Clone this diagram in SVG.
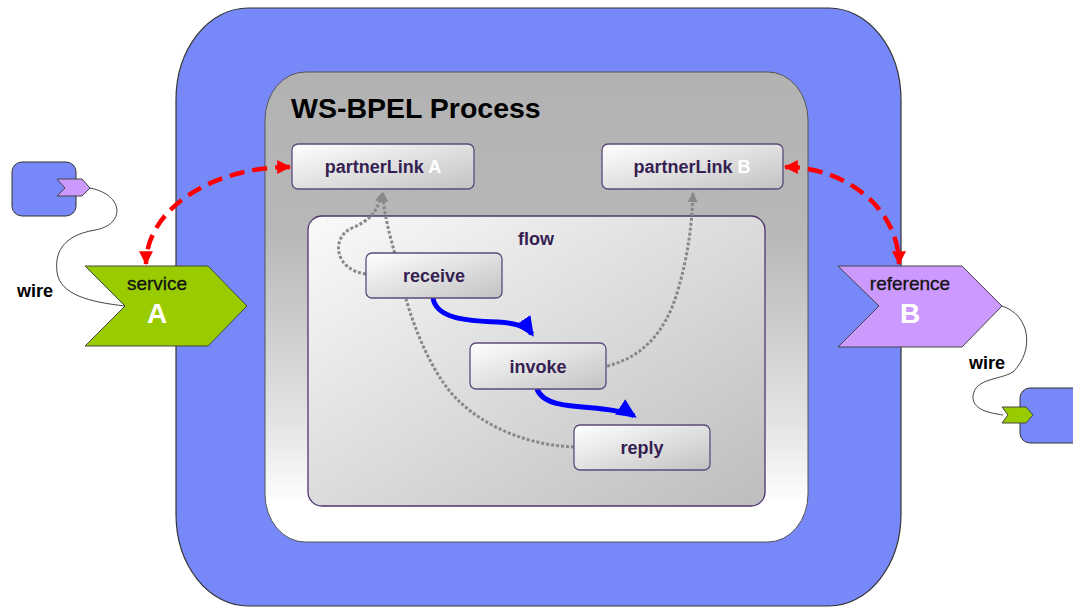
<svg xmlns="http://www.w3.org/2000/svg" width="1073" height="607" viewBox="0 0 1073 607">
  <defs>
    <linearGradient id="procFill" x1="0" y1="0" x2="0" y2="1">
      <stop offset="0" stop-color="#b2b2b2"/>
      <stop offset="0.35" stop-color="#b8b8b8"/>
      <stop offset="0.75" stop-color="#e4e4e4"/>
      <stop offset="0.92" stop-color="#ffffff"/>
    </linearGradient>
    <linearGradient id="flowFill" x1="0" y1="0" x2="1" y2="1">
      <stop offset="0" stop-color="#fafafa"/>
      <stop offset="1" stop-color="#bdbdbd"/>
    </linearGradient>
    <linearGradient id="nodeFill" x1="0" y1="0" x2="1" y2="1">
      <stop offset="0" stop-color="#ffffff"/>
      <stop offset="1" stop-color="#c2c2c2"/>
    </linearGradient>
    <marker id="redHead" viewBox="0 0 12 12" refX="11" refY="6" markerWidth="14" markerHeight="14" markerUnits="userSpaceOnUse" orient="auto-start-reverse">
      <path d="M0,0 L12,6 L0,12 Z" fill="#ff0000"/>
    </marker>
    <marker id="blueHead" viewBox="0 0 12 12" refX="10" refY="6" markerWidth="20" markerHeight="20" markerUnits="userSpaceOnUse" orient="auto">
      <path d="M0,0.5 L12,6 L0,11.5 Z" fill="#0000ff"/>
    </marker>
    <marker id="grayHead" viewBox="0 0 10 10" refX="9" refY="5" markerWidth="10" markerHeight="10" markerUnits="userSpaceOnUse" orient="auto">
      <path d="M0,0 L10,5 L0,10 Z" fill="#888888"/>
    </marker>
  </defs>
  <style>
    .node { fill: url(#nodeFill); stroke: #5c4a7c; stroke-width: 1.3; }
    .lbl { font-family: "Liberation Sans", Arial, sans-serif; font-weight: bold; font-size: 18px; fill: #361f52; text-anchor: middle; }
    .white { fill: #ffffff; }
    .chev { stroke: #444; stroke-width: 1; }
    .chevTxt { font-family: "Liberation Sans", Arial, sans-serif; font-size: 19px; fill: #111; stroke: #111; stroke-width: 0.3; text-anchor: middle; }
    .chevBig { font-family: "Liberation Sans", Arial, sans-serif; font-weight: bold; font-size: 28px; fill: #ffffff; text-anchor: middle; }
    .wireTxt { font-family: "Liberation Sans", Arial, sans-serif; font-weight: bold; font-size: 18px; fill: #000; text-anchor: middle; }
    .dotted { fill: none; stroke: #888888; stroke-width: 3; stroke-dasharray: 3 2; marker-end: url(#grayHead); }
    .flowArrow { fill: none; stroke: #0000ff; stroke-width: 5; marker-end: url(#blueHead); }
    .promote { fill: none; stroke: #ff0000; stroke-width: 4.5; stroke-dasharray: 15 8; marker-start: url(#redHead); marker-end: url(#redHead); }
    .wire { fill: none; stroke: #444; stroke-width: 1; }
  </style>

  <!-- composite -->
  <g id="composite">
    <rect x="176" y="8" width="725" height="598" rx="72" ry="92" fill="#7788f8" stroke="#333" stroke-width="1.2"/>
  </g>

  <!-- BPEL process container -->
  <g id="process">
    <rect x="265" y="72" width="543" height="470" rx="40" ry="48" fill="url(#procFill)" stroke="#555" stroke-width="1"/>
    <text x="291" y="118" font-family="'Liberation Sans', Arial, sans-serif" font-weight="bold" font-size="28.5" fill="#000">WS-BPEL Process</text>
  </g>

  <!-- flow activity -->
  <g id="flow">
    <rect x="308" y="216" width="457" height="290" rx="14" ry="14" fill="url(#flowFill)" stroke="#4f3470" stroke-width="1.3"/>
    <text class="lbl" x="536" y="245">flow</text>
  </g>

  <!-- connectors -->
  <g id="connectors">
    <path class="dotted" d="M574,447 C520,445 470,420 445,385 C420,350 405,300 400,275 C395,250 384,222 383,193"/>
    <path class="dotted" d="M366,274 C335,270 330,238 352,228 C370,220 377,213 382,193"/>
    <path class="dotted" d="M607,366 C640,358 665,335 678,290 C688,255 692,225 693,193"/>
    <path class="flowArrow" d="M433,298 C436,318 465,321 498,322 C518,323 528,328 532,334"/>
    <path class="flowArrow" d="M537,389 C543,405 568,406 595,408 C613,410 628,412 634,416"/>
    <path class="promote" d="M290,167 A144,97 0 0 0 146,264"/>
    <path class="promote" d="M785,167 A114,97 0 0 1 899,264"/>
    <path class="wire" d="M90,188 C125,195 125,225 95,230 C60,236 55,255 57,272 C60,295 90,302 125,306"/>
    <path class="wire" d="M1002,306 C1030,315 1035,350 1013,372 C1000,380 975,378 973,396 C972,410 990,413 1003,415"/>
  </g>

  <g id="partnerLinkA">
    <rect class="node" x="292" y="144" width="182" height="45" rx="6"/>
    <text class="lbl" x="383" y="173">partnerLink <tspan class="white">A</tspan></text>
  </g>
  <g id="partnerLinkB">
    <rect class="node" x="602" y="144" width="181" height="45" rx="6"/>
    <text class="lbl" x="692" y="173">partnerLink <tspan class="white">B</tspan></text>
  </g>

  <g id="receive">
    <rect class="node" x="366" y="253" width="136" height="45" rx="6"/>
    <text class="lbl" x="434" y="282">receive</text>
  </g>
  <g id="invoke">
    <rect class="node" x="470" y="343" width="136" height="46" rx="6"/>
    <text class="lbl" x="538" y="373">invoke</text>
  </g>
  <g id="reply">
    <rect class="node" x="574" y="425" width="136" height="45" rx="6"/>
    <text class="lbl" x="642" y="454">reply</text>
  </g>

  <g id="serviceA">
    <polygon class="chev" points="85,266 208,266 247,306 208,346 85,346 125,306" fill="#99cc00"/>
    <text class="chevTxt" x="157" y="290">service</text>
    <text class="chevBig" x="157" y="323">A</text>
  </g>
  <g id="referenceB">
    <polygon class="chev" points="838,266 962,266 1002,306 962,347 838,347 879,306" fill="#cc99ff"/>
    <text class="chevTxt" x="910" y="290">reference</text>
    <text class="chevBig" x="910" y="323">B</text>
  </g>

  <g id="clientComponent">
    <rect x="12" y="162" width="64" height="54" rx="10" fill="#7788f8" stroke="#333" stroke-width="1"/>
    <polygon class="chev" points="57,179 82,179 90,188 82,196 57,196 65,188" fill="#cc99ff"/>
  </g>
  <g id="targetComponent">
    <rect x="1020" y="388" width="70" height="55" rx="10" fill="#7788f8" stroke="#333" stroke-width="1"/>
    <polygon class="chev" points="1002,407 1026,407 1033,415 1026,423 1002,423 1008,415" fill="#99cc00"/>
  </g>

  <g id="wireLabels">
    <text class="wireTxt" x="35" y="297">wire</text>
    <text class="wireTxt" x="987" y="369">wire</text>
  </g>
</svg>
